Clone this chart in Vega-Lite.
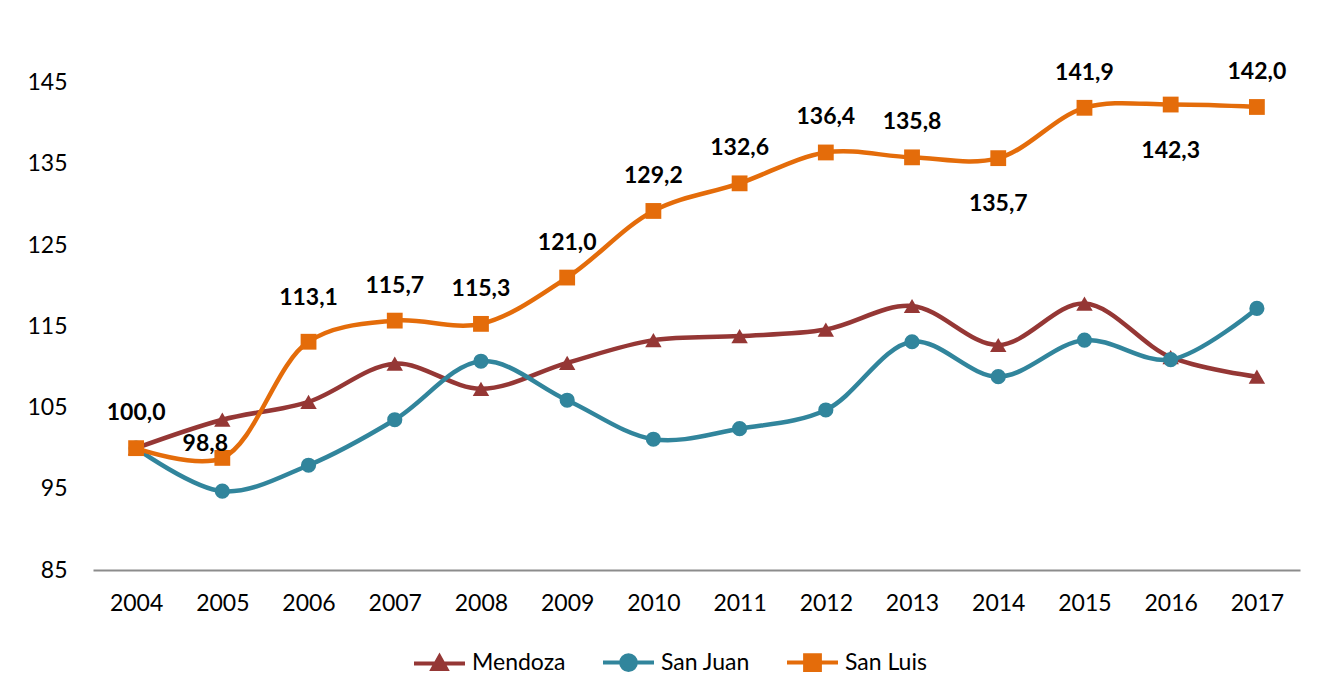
{
  "$schema": "https://vega.github.io/schema/vega-lite/v6.json",
  "width": 1207,
  "height": 528,
  "autosize": {"type": "none"},
  "padding": {"left": 93, "top": 42, "right": 18, "bottom": 126},
  "background": "white",
  "config": {
    "locale": {"number": {"decimal": ",", "thousands": ".", "grouping": [3], "currency": ["$", ""]}},
    "view": {"stroke": null},
    "font": "Lato"
  },
  "data": {
    "values": [
      {"year": 2004, "series": "Mendoza", "value": 100.0},
      {"year": 2005, "series": "Mendoza", "value": 103.5},
      {"year": 2006, "series": "Mendoza", "value": 105.7},
      {"year": 2007, "series": "Mendoza", "value": 110.4},
      {"year": 2008, "series": "Mendoza", "value": 107.3},
      {"year": 2009, "series": "Mendoza", "value": 110.5},
      {"year": 2010, "series": "Mendoza", "value": 113.3},
      {"year": 2011, "series": "Mendoza", "value": 113.8},
      {"year": 2012, "series": "Mendoza", "value": 114.6},
      {"year": 2013, "series": "Mendoza", "value": 117.5},
      {"year": 2014, "series": "Mendoza", "value": 112.7},
      {"year": 2015, "series": "Mendoza", "value": 117.8},
      {"year": 2016, "series": "Mendoza", "value": 111.2},
      {"year": 2017, "series": "Mendoza", "value": 108.8},
      {"year": 2004, "series": "San Juan", "value": 100.0},
      {"year": 2005, "series": "San Juan", "value": 94.7},
      {"year": 2006, "series": "San Juan", "value": 97.9},
      {"year": 2007, "series": "San Juan", "value": 103.5},
      {"year": 2008, "series": "San Juan", "value": 110.7},
      {"year": 2009, "series": "San Juan", "value": 105.9},
      {"year": 2010, "series": "San Juan", "value": 101.1},
      {"year": 2011, "series": "San Juan", "value": 102.4},
      {"year": 2012, "series": "San Juan", "value": 104.7},
      {"year": 2013, "series": "San Juan", "value": 113.1},
      {"year": 2014, "series": "San Juan", "value": 108.8},
      {"year": 2015, "series": "San Juan", "value": 113.3},
      {"year": 2016, "series": "San Juan", "value": 110.9},
      {"year": 2017, "series": "San Juan", "value": 117.2},
      {"year": 2004, "series": "San Luis", "value": 100.0},
      {"year": 2005, "series": "San Luis", "value": 98.8},
      {"year": 2006, "series": "San Luis", "value": 113.1},
      {"year": 2007, "series": "San Luis", "value": 115.7},
      {"year": 2008, "series": "San Luis", "value": 115.3},
      {"year": 2009, "series": "San Luis", "value": 121.0},
      {"year": 2010, "series": "San Luis", "value": 129.2},
      {"year": 2011, "series": "San Luis", "value": 132.6},
      {"year": 2012, "series": "San Luis", "value": 136.4},
      {"year": 2013, "series": "San Luis", "value": 135.8},
      {"year": 2014, "series": "San Luis", "value": 135.7},
      {"year": 2015, "series": "San Luis", "value": 141.9},
      {"year": 2016, "series": "San Luis", "value": 142.3},
      {"year": 2017, "series": "San Luis", "value": 142.0}
    ]
  },
  "encoding": {
    "x": {
      "field": "year", "type": "ordinal",
      "scale": {"type": "point", "padding": 0.5},
      "axis": {"title": null, "labelAngle": 0, "labelFont": "Lato", "labelFontSize": 23, "labelColor": "#000000", "ticks": false, "domainColor": "#8c8c8c", "domainWidth": 2, "labelPadding": 22}
    },
    "y": {
      "field": "value", "type": "quantitative",
      "scale": {"domain": [85, 150], "nice": false, "zero": false},
      "axis": {"title": null, "values": [85, 95, 105, 115, 125, 135, 145], "grid": false, "domain": false, "ticks": false, "labelPadding": 26, "labelFont": "Lato", "labelFontSize": 23, "labelColor": "#000000"}
    },
    "color": {"field": "series", "type": "nominal", "scale": {"domain": ["Mendoza", "San Juan", "San Luis"], "range": ["#953735", "#31859C", "#E46C0A"]},
      "legend": {"orient": "none", "legendX": 319, "legendY": 593, "direction": "horizontal", "title": null, "symbolSize": 2600, "symbolStrokeWidth": 4, "symbolOpacity": 1, "labelFont": "Lato", "labelFontSize": 23, "labelColor": "#000000", "columnPadding": 29, "labelOffset": 5}}
  },
  "layer": [
    {
      "mark": {"type": "line", "interpolate": "catmull-rom", "strokeWidth": 4.5}
    },
    {
      "transform": [{"filter": "datum.series == 'Mendoza'"}],
      "mark": {"type": "point", "shape": "triangle-up", "filled": true, "size": 270, "opacity": 1}
    },
    {
      "transform": [{"filter": "datum.series == 'San Juan'"}],
      "mark": {"type": "point", "shape": "circle", "filled": true, "size": 230, "opacity": 1}
    },
    {
      "transform": [{"filter": "datum.series == 'San Luis'"}],
      "mark": {"type": "point", "shape": "square", "filled": true, "size": 250, "opacity": 1}
    },
    {
      "mark": {"type": "point", "filled": true, "size": 0},
      "encoding": {
        "shape": {"field": "series", "type": "nominal", "scale": {"domain": ["Mendoza", "San Juan", "San Luis"], "range": ["M-1,0H1M-0.27,0.22L0,-0.27L0.27,0.22Z", "M-1,0H1M0.29,0A0.29,0.29 0 1,1 -0.29,0A0.29,0.29 0 1,1 0.29,0Z", "M-1,0H1M-0.29,-0.29H0.29V0.29H-0.29Z"]},
          "legend": {"orient": "none", "legendX": 319, "legendY": 593, "direction": "horizontal", "title": null, "symbolSize": 2600, "symbolStrokeWidth": 4, "symbolOpacity": 1, "labelFont": "Lato", "labelFontSize": 23, "labelColor": "#000000", "columnPadding": 29, "labelOffset": 5}}
      }
    },
    {
      "transform": [{"filter": "datum.series == 'San Luis' && datum.year != 2005 && datum.year != 2006 && datum.year != 2014 && datum.year != 2016"}],
      "mark": {"type": "text", "font": "Lato", "fontSize": 23, "fontWeight": "bold", "dy": -35},
      "encoding": {"text": {"field": "value", "type": "quantitative", "format": ".1f"}, "color": {"value": "#000000"}}
    },
    {
      "transform": [{"filter": "datum.series == 'San Luis' && datum.year == 2006"}],
      "mark": {"type": "text", "font": "Lato", "fontSize": 23, "fontWeight": "bold", "dy": -44},
      "encoding": {"text": {"field": "value", "type": "quantitative", "format": ".1f"}, "color": {"value": "#000000"}}
    },
    {
      "transform": [{"filter": "datum.series == 'San Luis' && datum.year == 2005"}],
      "mark": {"type": "text", "font": "Lato", "fontSize": 23, "fontWeight": "bold", "dx": -17, "dy": -14},
      "encoding": {"text": {"field": "value", "type": "quantitative", "format": ".1f"}, "color": {"value": "#000000"}}
    },
    {
      "transform": [{"filter": "datum.series == 'San Luis' && (datum.year == 2014 || datum.year == 2016)"}],
      "mark": {"type": "text", "font": "Lato", "fontSize": 23, "fontWeight": "bold", "dy": 46},
      "encoding": {"text": {"field": "value", "type": "quantitative", "format": ".1f"}, "color": {"value": "#000000"}}
    }
  ]
}
